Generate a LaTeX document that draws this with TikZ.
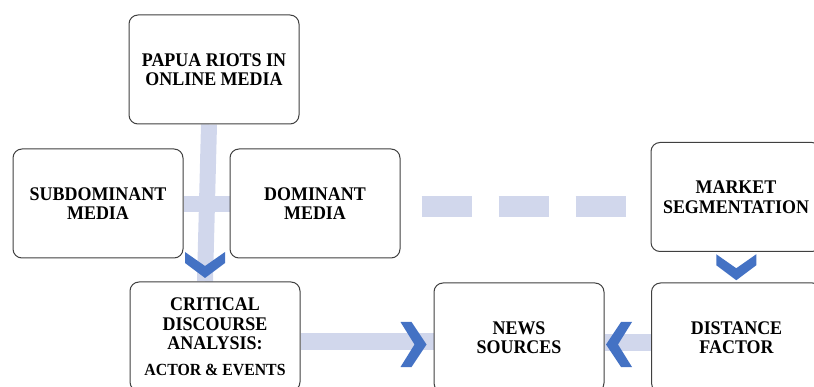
\documentclass[tikz,border=0pt]{standalone}
\usepackage{fontspec}
\setmainfont{Liberation Serif}[FakeStretch=0.93]
\usetikzlibrary{calc,backgrounds}

\definecolor{barblue}{RGB}{209,215,236}
\definecolor{chevblue}{RGB}{68,114,196}
\definecolor{edgegray}{RGB}{64,64,64}

\tikzset{
  stage/.style={draw=edgegray, line width=1pt, fill=white, rounded corners=9pt,
    minimum width=170pt, minimum height=109pt, align=center, inner sep=0pt,
    font=\bfseries\fontsize{19.3}{19.5}\selectfont},
  bar/.style={draw=barblue, line width=16pt},
  dashbar/.style={draw=barblue, line width=21pt, dash pattern=on 50pt off 27pt, dash phase=56pt},
  chevron/.pic={\fill[chevblue] (-13,-20) -- (-2,-20) -- (13,0) -- (-2,20) -- (-13,20) -- (1,0) -- cycle;}
}

\begin{document}
\begin{tikzpicture}[x=1pt,y=-1pt]
    \useasboundingbox (0,0) rectangle (814,387);
    \clip (0,0) rectangle (814,387);

    \node[stage] (papua) at (214,69.5) {PAPUA RIOTS IN\\ONLINE MEDIA};
    \node[stage] (sub) at (98,203.5) {SUBDOMINANT\\MEDIA};
    \node[stage] (dom) at (315,203.5) {DOMINANT\\MEDIA};
    \node[stage] (market) at (736,197) {MARKET\\SEGMENTATION};
    \node[stage] (cda) at (215,336.5) {CRITICAL\\DISCOURSE\\ANALYSIS:\\[6pt]{\fontsize{17}{19}\selectfont ACTOR \& EVENTS}};
    \node[stage] (news) at (519,337.5) {NEWS\\SOURCES};
    \node[stage] (distance) at (736.5,337.5) {DISTANCE\\FACTOR};

    % light bars behind the boxes
    \begin{scope}[on background layer]
        \draw[bar] ([xshift=-5pt]papua.south) -- ([xshift=-10pt]cda.north);
        \draw[bar] ([yshift=-1pt]sub.east) -- ([yshift=-1pt]dom.west);
        \draw[dashbar] ([yshift=-3pt]dom.east) -- ([yshift=-3pt]dom.east -| market.west);
        \draw[bar] ([yshift=-5pt]cda.east) -- ([yshift=-5pt]cda.east -| news.west);
        \draw[bar] ([yshift=-5pt]distance.west) -- ([yshift=-5pt]distance.west -| news.east);
    \end{scope}

    % chevron heads
    \pic[rotate=-90] at ([xshift=-10pt,yshift=16.5pt]cda.north) {chevron};
    \pic[rotate=-90] at ($(market.south)!0.5!(distance.north)$) {chevron};
    \pic[yscale=1.125] at ([xshift=-20pt,yshift=-7pt]news.west) {chevron};
    \pic[rotate=180,yscale=1.125] at ([xshift=14.5pt,yshift=-7pt]news.east) {chevron};
\end{tikzpicture}
\end{document}
